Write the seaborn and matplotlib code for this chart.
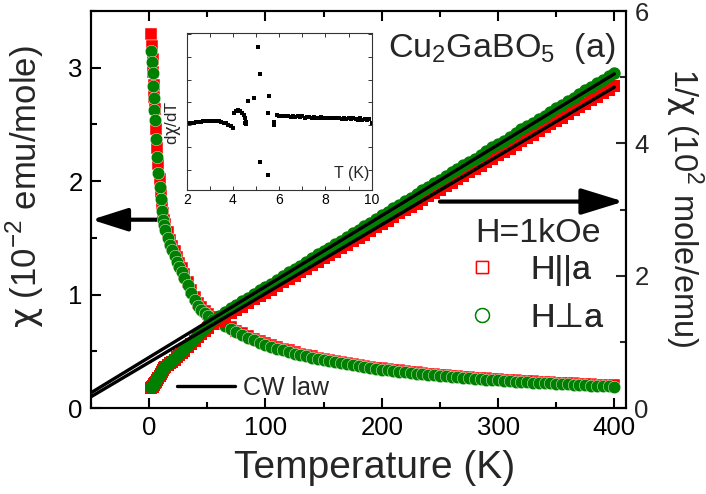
import numpy as np
import pandas as pd
import matplotlib
matplotlib.use("Agg")
import matplotlib.pyplot as plt
from matplotlib.lines import Line2D
from matplotlib.ticker import MultipleLocator
import seaborn as sns

# ---------------- data ----------------
T = [2, 2.5, 3, 3.5, 4, 4.5, 5, 6, 7, 8, 9, 10, 11, 12, 13, 14, 16, 18, 20, 22, 24, 26, 28, 30,
     33, 36, 39, 42, 45, 48, 51, 55,
     60, 65, 70, 75, 80, 85, 90, 95, 100, 105, 110, 115, 120, 125, 130, 135, 140, 145, 150,
     155, 160, 165, 170, 175, 180, 185, 190, 195, 200, 205, 210, 215, 220, 225, 230, 235, 240,
     245, 250, 255, 260, 265, 270, 275, 280, 285, 290, 295, 300, 305, 310, 315, 320, 325, 330,
     335, 340, 345, 350, 355, 360, 365, 370, 375, 380, 385, 390, 395, 400]

chi_par = [3.30, 3.19, 3.08, 2.96, 2.85, 2.74, 2.64, 2.46, 2.29, 2.15, 2.02, 1.90, 1.80, 1.72, 1.66,
           1.62, 1.55, 1.48, 1.43, 1.38, 1.33, 1.28, 1.23, 1.18,
           1.11, 1.04, 0.975, 0.925, 0.89, 0.858, 0.832, 0.80,
           0.772, 0.74, 0.71, 0.683, 0.657, 0.634, 0.612, 0.591, 0.572, 0.555, 0.538, 0.522, 0.507,
           0.493, 0.48, 0.468, 0.456, 0.445, 0.434, 0.423, 0.414, 0.405, 0.396, 0.388, 0.38, 0.372,
           0.364, 0.357, 0.35, 0.343, 0.337, 0.331, 0.325, 0.319, 0.314, 0.309, 0.304, 0.299, 0.294,
           0.289, 0.285, 0.281, 0.276, 0.272, 0.268, 0.265, 0.261, 0.257, 0.254, 0.251, 0.247, 0.244,
           0.241, 0.238, 0.235, 0.232, 0.229, 0.227, 0.224, 0.221, 0.219, 0.216, 0.214, 0.211, 0.209,
           0.207, 0.205, 0.203, 0.200]

chi_perp = [3.15, 3.05, 2.95, 2.84, 2.73, 2.63, 2.54, 2.37, 2.21, 2.07, 1.95, 1.84, 1.74, 1.66, 1.61,
            1.57, 1.50, 1.44, 1.39, 1.34, 1.29, 1.24, 1.20, 1.15,
            1.08, 1.01, 0.95, 0.90, 0.865, 0.835, 0.81, 0.78,
            0.754, 0.723, 0.694, 0.667, 0.642, 0.619, 0.597, 0.577, 0.558, 0.541, 0.524, 0.509, 0.494,
            0.480, 0.467, 0.455, 0.443, 0.432, 0.422, 0.411, 0.402, 0.393, 0.384, 0.376, 0.368, 0.360,
            0.352, 0.345, 0.339, 0.332, 0.326, 0.320, 0.314, 0.308, 0.303, 0.298, 0.293, 0.288, 0.283,
            0.278, 0.274, 0.270, 0.265, 0.261, 0.257, 0.254, 0.250, 0.246, 0.243, 0.240, 0.236, 0.233,
            0.230, 0.227, 0.224, 0.221, 0.218, 0.216, 0.213, 0.210, 0.208, 0.205, 0.203, 0.200, 0.198,
            0.196, 0.194, 0.192, 0.189]

inv_par = [0.30, 0.31, 0.32, 0.335, 0.35, 0.36, 0.375, 0.40, 0.43, 0.46, 0.49, 0.52, 0.55, 0.58, 0.60,
           0.62, 0.65, 0.68, 0.70, 0.73, 0.77, 0.80, 0.83, 0.86,
           0.92, 0.97, 1.02, 1.07, 1.12, 1.16, 1.21, 1.27,
           1.32, 1.38, 1.43, 1.48, 1.53, 1.58, 1.64, 1.69, 1.74, 1.79, 1.84, 1.90, 1.95, 2.00, 2.05,
           2.10, 2.16, 2.21, 2.26, 2.31, 2.36, 2.42, 2.47, 2.52, 2.57, 2.62, 2.68, 2.73, 2.78, 2.83,
           2.88, 2.94, 2.99, 3.04, 3.09, 3.14, 3.20, 3.25, 3.30, 3.35, 3.40, 3.46, 3.51, 3.56, 3.61,
           3.66, 3.72, 3.77, 3.82, 3.87, 3.92, 3.98, 4.03, 4.08, 4.13, 4.18, 4.24, 4.29, 4.34, 4.39,
           4.44, 4.50, 4.55, 4.60, 4.65, 4.70, 4.76, 4.81, 4.86]

inv_perp = [0.32, 0.33, 0.34, 0.355, 0.37, 0.38, 0.39, 0.42, 0.45, 0.48, 0.51, 0.54, 0.57, 0.60, 0.62,
            0.64, 0.67, 0.70, 0.72, 0.75, 0.79, 0.82, 0.86, 0.89,
            0.95, 1.00, 1.06, 1.12, 1.17, 1.21, 1.27, 1.33,
            1.39, 1.45, 1.51, 1.56, 1.61, 1.67, 1.72, 1.78, 1.83, 1.88, 1.94, 1.99, 2.05, 2.10, 2.15,
            2.21, 2.26, 2.32, 2.37, 2.42, 2.48, 2.53, 2.59, 2.64, 2.69, 2.75, 2.80, 2.86, 2.91, 2.96,
            3.02, 3.07, 3.13, 3.18, 3.23, 3.29, 3.34, 3.40, 3.45, 3.50, 3.56, 3.61, 3.67, 3.72, 3.77,
            3.83, 3.88, 3.94, 3.99, 4.04, 4.10, 4.15, 4.21, 4.26, 4.31, 4.37, 4.42, 4.48, 4.53, 4.58,
            4.64, 4.69, 4.75, 4.80, 4.85, 4.91, 4.96, 5.02, 5.07]

# Curie-Weiss fits (1/chi)
cw_T = [-50, 400]
cw_par = [0.17, 4.85]
cw_perp = [0.23, 5.05]

# inset: dchi/dT (arb. units)
T_in = [2.0, 2.1, 2.2, 2.3, 2.4, 2.5, 2.6, 2.7, 2.8, 2.9, 3.0, 3.1, 3.2, 3.3, 3.4, 3.5, 3.6, 3.7,
        3.8, 3.9, 4.0,
        4.06, 4.13, 4.2, 4.3, 4.4, 4.48, 4.54, 4.57, 4.55, 4.54,
        4.67, 4.91, 5.07, 5.16, 5.17, 5.53, 5.53, 5.56,
        5.79, 5.79, 5.9,
        6.0, 6.1, 6.2, 6.3, 6.4, 6.5, 6.6, 6.7, 6.8, 6.9, 7.0, 7.1, 7.2, 7.3, 7.4, 7.5, 7.6, 7.7,
        7.8, 7.9, 8.0, 8.1, 8.2, 8.3, 8.4, 8.5, 8.6, 8.7, 8.8, 8.9, 9.0, 9.1, 9.2, 9.3, 9.4, 9.5,
        9.6, 9.7, 9.8, 9.9, 10.0]
dchi_in = [2.06, 2.07, 2.09, 2.10, 2.12, 2.12, 2.14, 2.15, 2.16, 2.17, 2.18, 2.18, 2.18, 2.17, 2.16,
           2.13, 2.10, 2.06, 2.00, 1.94, 1.85,
           2.51, 2.61, 2.66, 2.61, 2.51, 2.43, 2.29, 2.14, 2.02, 2.09,
           3.05, 3.20, 5.43, 4.24, 0.37, -0.22, 2.54, 3.28,
           2.14, 1.99, 2.43,
           2.39, 2.37, 2.41, 2.38, 2.40, 2.36, 2.39, 2.35, 2.37, 2.34, 2.37, 2.32, 2.35, 2.35, 2.31,
           2.35, 2.32, 2.30, 2.34, 2.30, 2.32, 2.29, 2.31, 2.28, 2.31, 2.28, 2.30, 2.27, 2.29, 2.26,
           2.29, 2.25, 2.28, 2.26, 2.23, 2.28, 2.23, 2.27, 2.21, 2.26, 2.10]

df = pd.DataFrame({"T": T, "chi_par": chi_par, "chi_perp": chi_perp,
                   "inv_par": inv_par, "inv_perp": inv_perp})
cw = pd.DataFrame({"T": cw_T, "par": cw_par, "perp": cw_perp})
ins = pd.DataFrame({"T": T_in, "d": dchi_in})

# ---------------- style ----------------
sns.set_style("ticks")
plt.rcParams["font.family"] = ["Liberation Sans", "DejaVu Sans"]
plt.rcParams["mathtext.fontset"] = "custom"
plt.rcParams["mathtext.rm"] = "Liberation Sans"
plt.rcParams["mathtext.it"] = "DejaVu Sans"
plt.rcParams["mathtext.bf"] = "Liberation Sans:bold"

RED = "#ff0000"
GREEN = "#008000"

W, H = 706, 494
fig = plt.figure(figsize=(W / 100, H / 100), dpi=100)
L, R, TOP, BOT = 91, 626, 11, 408
ax = fig.add_axes([L / W, 1 - BOT / H, (R - L) / W, (BOT - TOP) / H])
ax2 = ax.twinx()

msz = 80
for a, ycol, mk, col, sz, z, elw in [(ax, "chi_par", "s", RED, msz * 0.8, 3, 0.3),
                                     (ax, "chi_perp", "o", GREEN, msz, 4, 0.3),
                                     (ax2, "inv_par", "s", RED, msz * 0.8, 3, 0),
                                     (ax2, "inv_perp", "o", GREEN, msz, 4, 0)]:
    sns.scatterplot(data=df, x="T", y=ycol, ax=a, marker=mk, s=sz, color=col,
                    edgecolor="white", linewidth=elw, zorder=z)
sns.lineplot(data=cw, x="T", y="par", ax=ax2, color="black", lw=2.4, zorder=5)
sns.lineplot(data=cw, x="T", y="perp", ax=ax2, color="black", lw=2.4, zorder=5)

ax.set_xlim(-50, 410)
ax.set_ylim(0, 3.5)
ax2.set_ylim(0, 6)
ax.set_xticks([0, 100, 200, 300, 400])
ax.xaxis.set_minor_locator(MultipleLocator(50))
ax.set_yticks([0, 1, 2, 3])
ax.yaxis.set_minor_locator(MultipleLocator(0.5))
ax2.set_yticks([0, 2, 4, 6])
ax2.yaxis.set_minor_locator(MultipleLocator(1))

for a in (ax, ax2):
    for s in a.spines.values():
        s.set_linewidth(1.5)
        s.set_color("black")
ax.tick_params(which="both", direction="in", top=True, right=False, width=1.5,
               labelsize=18.5, pad=6, colors="black")
ax.tick_params(which="major", length=7)
ax.tick_params(which="minor", length=4)
ax2.tick_params(which="both", direction="in", width=1.5, labelsize=18.5, pad=6)
ax2.tick_params(which="major", length=7)
ax2.tick_params(which="minor", length=4)

ax.set_xlabel("Temperature (K)", fontsize=28)
ax.xaxis.set_label_coords(0.53, -0.105)
ax.set_ylabel("$\\chi$ (10$^{\\mathregular{-2}}$ emu/mole)", fontsize=25)
ax.yaxis.set_label_coords(-0.085, 0.557)
ax2.set_ylabel("1/$\\chi$ (10$^{\\mathregular{2}}$ mole/emu)", fontsize=23.5, rotation=270,
               va="bottom")
ax2.yaxis.set_label_coords(1.07, 0.505)

# annotations
ax.text(0.555, 0.884, "Cu$_{\\mathregular{2}}$GaBO$_{\\mathregular{5}}$  (a)", transform=ax.transAxes,
        fontsize=24.5, ha="left", va="baseline")
ax.text(0.718, 0.418, "H=1kOe", transform=ax.transAxes, fontsize=24.5, ha="left", va="baseline")

ax.annotate("", xy=(-49.5, 1.66), xytext=(11, 1.66), xycoords="data",
            arrowprops=dict(arrowstyle="-|>,head_length=1.1,head_width=0.35", lw=3,
                            color="black", mutation_scale=20, shrinkA=0, shrinkB=0))
ax.annotate("", xy=(408, 1.82), xytext=(250, 1.82), xycoords="data",
            arrowprops=dict(arrowstyle="-|>,head_length=1.3,head_width=0.4", lw=3,
                            color="black", mutation_scale=20, shrinkA=0, shrinkB=0))

h1 = [Line2D([], [], ls="", marker="s", ms=9, mfc="white", mec=RED, mew=1.0),
      Line2D([], [], ls="", marker="o", ms=10, mfc="white", mec=GREEN, mew=1.0)]
leg1 = ax.legend(h1, ["H||a", "H⊥a"], loc="center left", bbox_to_anchor=(0.701, 0.285),
                 frameon=False, fontsize=24.5, handlelength=0.95, handletextpad=0.95,
                 labelspacing=0.5, borderpad=0, borderaxespad=0)
ax.add_artist(leg1)
h2 = [Line2D([], [], color="black", lw=2.4)]
ax2.legend(h2, ["CW law"], loc="center left", bbox_to_anchor=(0.161, 0.05), frameon=False,
           fontsize=18, handlelength=2.3, handletextpad=0.35, borderpad=0, borderaxespad=0)

# inset
ix0, ix1, iy0, iy1 = 186.7, 371.7, 33.3, 190
axi = fig.add_axes([ix0 / W, 1 - iy1 / H, (ix1 - ix0) / W, (iy1 - iy0) / H])
sns.scatterplot(data=ins, x="T", y="d", ax=axi, marker="s", s=6, color="black",
                edgecolor="black", linewidth=0)
axi.set_xlim(2, 10)
axi.set_ylim(-0.885, 6.05)
axi.set_xticks([2, 4, 6, 8, 10])
axi.xaxis.set_minor_locator(MultipleLocator(1))
axi.set_yticks([0, 1, 2, 3, 4, 5, 6])
axi.set_yticklabels([])
for s in axi.spines.values():
    s.set_linewidth(0.8)
    s.set_color("#333333")
axi.tick_params(which="both", direction="in", top=True, right=True, width=0.7,
                length=3, labelsize=10, pad=2, colors="#333333", labelcolor="black")
axi.set_xlabel("")
axi.set_ylabel("d$\\chi$/dT", fontsize=12)
axi.yaxis.set_label_coords(-0.02, 0.43)
axi.text(0.985, 0.075, "T (K)", transform=axi.transAxes, fontsize=11.5, ha="right", va="baseline")

fig.savefig("out.png", dpi=100)
